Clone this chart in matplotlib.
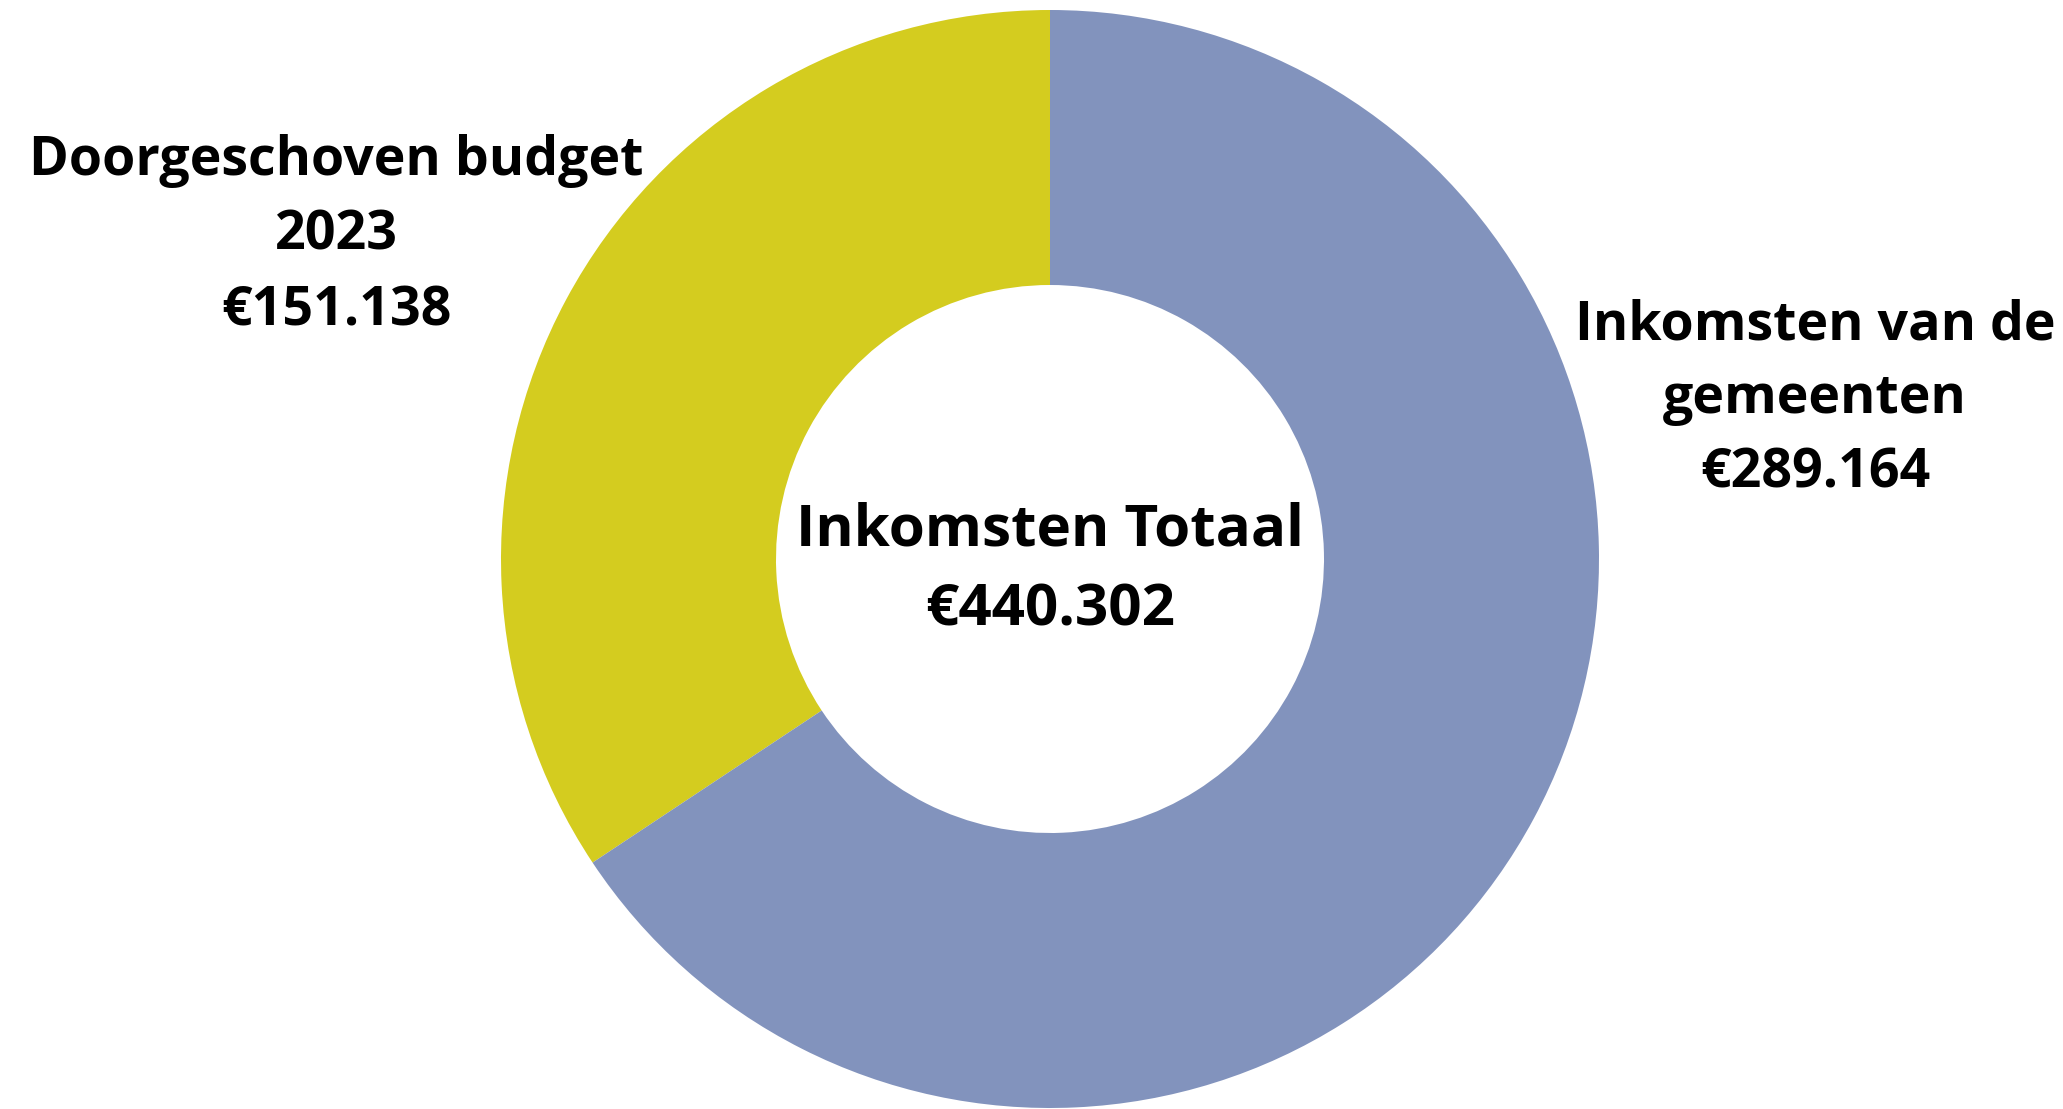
import matplotlib.pyplot as plt

# data
labels = ['Doorgeschoven budget\n2023', 'Inkomsten van de\ngemeenten']
values = [151138, 289164]
colors = ['#D4CC1F', '#8293BD']
total = sum(values)


def euro(v):
    return '€' + format(v, ',').replace(',', '.')


W, H = 2063, 1109
fig = plt.figure(figsize=(W / 100, H / 100), dpi=100)
ax = fig.add_axes([0, 0, 1, 1])

ax.pie(values, colors=colors, startangle=90, counterclock=True,
       radius=549, center=(1050, H - 559),
       wedgeprops=dict(width=275, linewidth=0), frame=True)
ax.set_xlim(0, W)
ax.set_ylim(0, H)
ax.set_aspect('equal')
ax.axis('off')

font = dict(family='Open Sans', weight='bold', color='black', ha='center', va='baseline')


def block(x, baselines, lines, size):
    for yb, s in zip(baselines, lines):
        ax.text(x, H - yb, s, fontsize=size, **font)


# labels next to the ring
block(336, [175, 250, 325], labels[0].split('\n') + [euro(values[0])], 38.7)
block(1815, [339, 413, 487], labels[1].split('\n') + [euro(values[1])], 38.7)

# centre
block(1050, [546, 626], ['Inkomsten Totaal', euro(total)], 42)

fig.savefig('out.png', dpi=100)
